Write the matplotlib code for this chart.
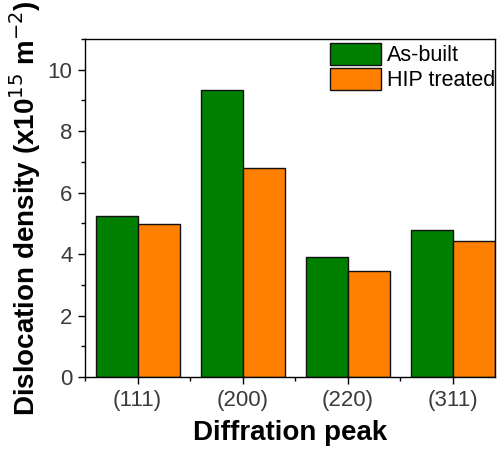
import numpy as np
import matplotlib.pyplot as plt
from matplotlib.ticker import MultipleLocator

plt.rcParams['font.family'] = ['Liberation Sans', 'DejaVu Sans']

peaks = ["(111)", "(200)", "(220)", "(311)"]
as_built = [5.24, 9.35, 3.90, 4.79]
hip_treated = [4.98, 6.80, 3.46, 4.44]

x = np.arange(1, len(peaks) + 1)
w = 0.4

fig = plt.figure(figsize=(5.02, 4.57), dpi=100)
ax = fig.add_axes([0.1693, 0.175, 0.817, 0.740])

ax.bar(x - w / 2, as_built, w, color="#008000", edgecolor="#111111", linewidth=1.0, label="As-built")
ax.bar(x + w / 2, hip_treated, w, color="#FF8000", edgecolor="#111111", linewidth=1.0, label="HIP treated")

ax.set_xlim(0.5, 4.4)
ax.set_ylim(0, 11)
ax.set_xticks(x)
ax.set_xticklabels(peaks)
ax.xaxis.set_minor_locator(MultipleLocator(1, offset=0.5))
ax.yaxis.set_major_locator(MultipleLocator(2))
ax.yaxis.set_minor_locator(MultipleLocator(1))

ax.tick_params(which="major", direction="out", length=5, width=1, labelsize=16, labelcolor="#3a3a3a", pad=4)
ax.tick_params(which="minor", direction="out", length=3, width=1)
for s in ax.spines.values():
    s.set_linewidth(1.0)

ax.set_xlabel("Diffration peak", fontsize=20, fontweight="bold", labelpad=7)
ax.set_ylabel("Dislocation density (x10$^{15}$ m$^{-2}$)", fontsize=20, fontweight="bold", labelpad=3)

ax.legend(loc="upper right", frameon=False, fontsize=15.5, handlelength=2.4, handleheight=1.15,
          handletextpad=0.25, labelspacing=0.1, borderaxespad=0.0, borderpad=0.2,
          bbox_to_anchor=(1.01, 1.0))

fig.savefig("out.png", dpi=100)
